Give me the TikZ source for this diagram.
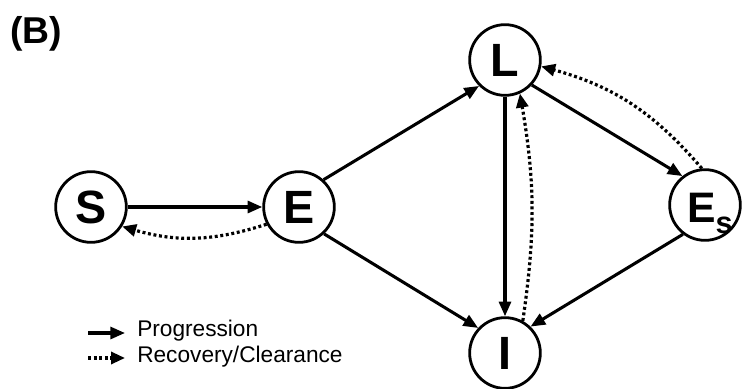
\documentclass[tikz,border=0pt]{standalone}
\usepackage{fontspec}
\setmainfont{Liberation Sans}
\usetikzlibrary{arrows.meta}
\begin{document}
\begin{tikzpicture}[x=0.75pt,y=-0.75pt,
  state/.style={circle,draw,line width=2.1pt,minimum size=53pt,inner sep=0pt,
    font=\fontsize{35}{35}\selectfont\bfseries},
  prog/.style={line width=2.3pt,-{Triangle[length=11pt,width=9pt]}},
  recov/.style={line width=2.4pt,dash pattern=on 2.2pt off 2pt,
    -{Triangle[length=10.5pt,width=9pt]}},
  lab/.style={font=\fontsize{17}{18}\selectfont,anchor=west,inner sep=0pt}]
\clip (0,0) rectangle (743,389);
\node[font=\fontsize{28}{28}\selectfont\bfseries,anchor=west,inner sep=0pt] (B) at (10,34) {(B)};
\node[state] (S) at (91,207) {S};
\node[state] (E) at (299,207) {E};
\node[state] (L) at (505,60) {L};
\node[state] (I) at (505,353) {I};
\node[state] (Es) at (705,205) {};
\node[anchor=base west,inner sep=0pt,font=\fontsize{32}{32}\selectfont\bfseries] (EsLab) at (687,222)
  {E\raisebox{-8.25pt}{\fontsize{23}{23}\selectfont s}};
\draw[prog] (S.east) -- (E.west);
\draw[recov] (E.208) to[bend left=17] (S.-32);
\draw[prog] (E.48) -- (L.225);
\draw[prog] (E.-47) -- (I.137);
\draw[prog] (L.270) -- (I.90);
\draw[recov] (I.61) to[bend right=9] (L.-66);
\draw[prog] (L.-43) -- (Es.128);
\draw[recov] (Es.95) to[bend right=17] (L.-10);
\draw[prog] (Es.233) -- (I.46);
\coordinate (p0) at (88,333);
\coordinate (p1) at (125,333);
\coordinate (r0) at (88,358);
\coordinate (r1) at (125,358);
\draw[prog] (p0) -- (p1);
\draw[recov] (r0) -- (r1);
\node[lab] (pl) at (137,331) {Progression};
\node[lab] (rl) at (137,357) {Recovery/Clearance};
\end{tikzpicture}
\end{document}
